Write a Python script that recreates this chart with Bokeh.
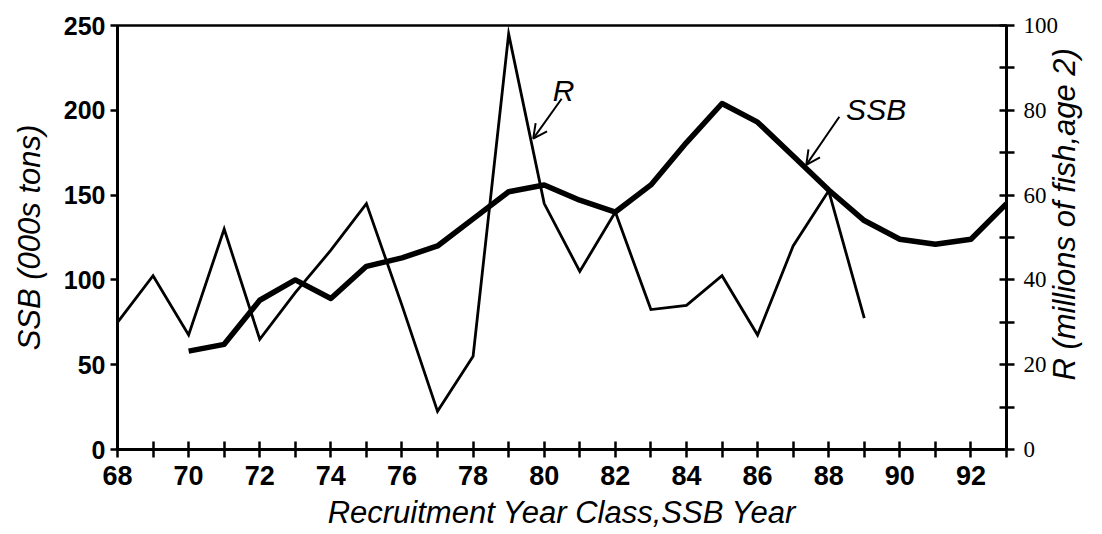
import math
from bokeh.plotting import figure
from bokeh.models import Range1d, LinearAxis, FixedTicker, Label, Arrow, OpenHead
from bokeh.embed import file_html
from bokeh.resources import INLINE

# ---- data ----
years_R = list(range(68, 90))
R_values = [30, 41, 27, 52, 26, 37, 47, 58, 34, 9, 22, 98, 58, 42, 56, 33, 34, 41, 27, 48, 61, 31]

years_SSB = list(range(70, 94))
SSB_values = [58, 62, 88, 100, 89, 108, 113, 120, 136, 152, 156, 147, 140, 156, 181,
              204, 193, 173, 153, 135, 124, 121, 124, 145]

x_major = list(range(68, 94, 2))
x_minor = list(range(69, 94, 2))
ssb_ticks = [0, 50, 100, 150, 200, 250]
r_ticks = [0, 20, 40, 60, 80, 100]
r_minor = [10, 30, 50, 70, 90]

x_title = "Recruitment Year Class,SSB Year"
left_title = "SSB (000s tons)"
right_title = "R (millions of fish,age 2)"

SANS = "Liberation Sans"
SERIF = "Liberation Serif"

W, H = 1102, 534
p = figure(width=W, height=H, x_range=Range1d(68, 93), y_range=Range1d(0, 250),
           output_backend="svg", toolbar_location=None,
           min_border_left=117, min_border_right=W - 1007, min_border_top=25,
           min_border_bottom=H - 449)
p.extra_y_ranges = {"R": Range1d(0, 100)}
p.xgrid.visible = False
p.ygrid.visible = False
p.outline_line_color = "black"
p.outline_line_width = 2.5
p.background_fill_color = "white"
p.border_fill_color = "white"

# lines
p.line(years_R, R_values, y_range_name="R", line_width=2.8, line_color="black", line_join="miter")
p.line(years_SSB, SSB_values, line_width=5.5, line_color="black", line_join="round")

# x axis
xa = p.xaxis[0]
xa.ticker = FixedTicker(ticks=x_major, minor_ticks=x_minor)
xa.axis_line_width = 3
xa.major_tick_in = 8
xa.major_tick_out = 8
xa.minor_tick_in = 8
xa.minor_tick_out = 8
xa.major_tick_line_width = 2.5
xa.minor_tick_line_width = 2.5
xa.major_label_text_font = SANS
xa.major_label_text_font_style = "bold"
xa.major_label_text_font_size = "27px"
xa.major_label_text_color = "black"
xa.major_label_standoff = 8
xa.axis_label = x_title
xa.axis_label_text_font = SANS
xa.axis_label_text_font_style = "italic"
xa.axis_label_text_font_size = "31px"
xa.axis_label_text_color = "black"
xa.axis_label_standoff = 7

# left axis
ya = p.yaxis[0]
ya.ticker = FixedTicker(ticks=ssb_ticks, minor_ticks=[])
ya.axis_line_width = 3
ya.major_tick_in = 0
ya.major_tick_out = 7
ya.major_tick_line_width = 2.5
ya.major_label_text_font = SANS
ya.major_label_text_font_style = "bold"
ya.major_label_text_font_size = "25px"
ya.major_label_text_color = "black"
ya.major_label_standoff = 5
ya.axis_label = left_title
ya.axis_label_text_font = SANS
ya.axis_label_text_font_style = "italic"
ya.axis_label_text_font_size = "31px"
ya.axis_label_text_color = "black"
ya.axis_label_standoff = 14

# right axis
ra = LinearAxis(y_range_name="R", ticker=FixedTicker(ticks=r_ticks, minor_ticks=r_minor))
ra.axis_line_width = 3
ra.major_tick_in = 7
ra.major_tick_out = 8
ra.minor_tick_in = 7
ra.minor_tick_out = 8
ra.major_tick_line_width = 2.5
ra.minor_tick_line_width = 2.5
ra.major_label_text_font = SERIF
ra.major_label_text_font_size = "23px"
ra.major_label_text_color = "black"
ra.major_label_standoff = 9

# right-axis title reading bottom-to-top, starting near the bottom of the axis
ra.axis_label_orientation = math.pi / 2
ra.axis_label_align = "start"
ra.axis_label = "\u00a0" * 8 + right_title
ra.axis_label_text_font = SANS
ra.axis_label_text_font_style = "italic"
ra.axis_label_text_font_size = "31px"
ra.axis_label_text_color = "black"
ra.axis_label_standoff = 3
p.add_layout(ra, "right")

# series annotations with arrows
p.add_layout(Label(x=80.24, y=211.5, text="R", text_align="left", text_baseline="alphabetic",
                   text_font=SANS, text_font_style="italic", text_font_size="30px", text_color="black"))
p.add_layout(Arrow(x_start=80.49, y_start=206.8, x_end=79.69, y_end=183.3, line_width=2,
                   end=OpenHead(size=14, line_width=2, line_color="black")))

p.add_layout(Label(x=88.49, y=200.3, text="SSB", text_align="left", text_baseline="alphabetic",
                   text_font=SANS, text_font_style="italic", text_font_size="30px", text_color="black"))
p.add_layout(Arrow(x_start=88.30, y_start=196.2, x_end=87.37, y_end=167.8, line_width=2,
                   end=OpenHead(size=14, line_width=2, line_color="black")))

open("out.html", "w").write(file_html(p, INLINE))
